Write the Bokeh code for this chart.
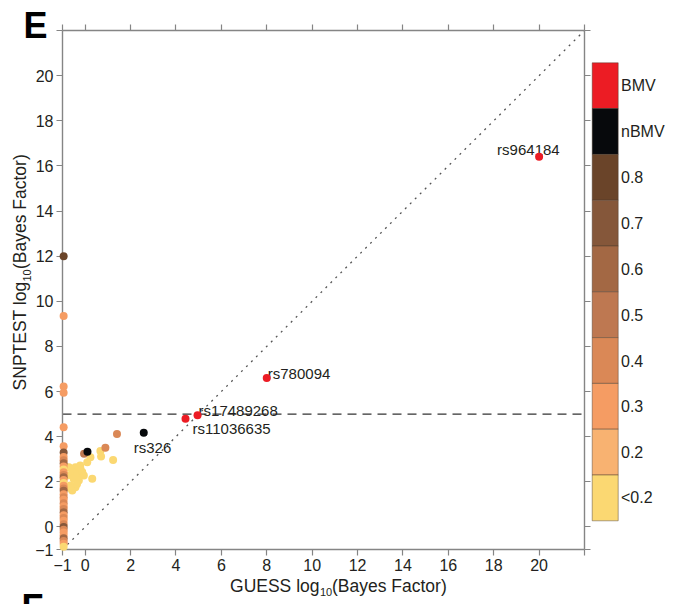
from math import pi

from bokeh.core.properties import value
from bokeh.embed import file_html
from bokeh.models import ColumnDataSource, FixedTicker, LinearAxis, Range1d
from bokeh.plotting import figure
from bokeh.resources import INLINE

FONT = "Liberation Sans"
INK = "#231F20"
AXIS_GREY = "#858585"

# ---- colour key: r² bins, top to bottom ----
bins = ["BMV", "nBMV", "0.8", "0.7", "0.6", "0.5", "0.4", "0.3", "0.2", "<0.2"]
bin_colors = ["#EC1C24", "#07090C", "#6A4429", "#85573A", "#A36844",
              "#BE7851", "#DA8856", "#F59C63", "#F8B271", "#FBD872"]
color_of = dict(zip(bins, bin_colors))

# ---- SNPs at the GUESS floor (log10 BF ~ -1) ----
floor_guess = -0.95
floor_snptest = [12.0, 9.35, 6.22, 5.95, 4.42, 3.58, 3.3, 3.1, 2.95, 2.82, 2.68, 2.55,
                 2.42, 2.3, 2.2, 2.08, 1.95, 1.82, 1.7, 1.6, 1.45, 1.32, 1.2, 1.05,
                 0.92, 0.8, 0.65, 0.52, 0.4, 0.27, 0.12, 0.0, -0.12, -0.25, -0.38,
                 -0.5, -0.62, -0.75, -0.88]
floor_bin = ["0.8", "0.3", "0.3", "0.3", "0.3", "0.3", "0.7", "0.3", "0.4", "0.6", "0.3", "<0.2",
             "0.3", "0.4", "0.6", "0.3", "<0.2", "0.3", "0.4", "0.6", "0.3", "0.4", "0.3", "0.4",
             "0.3", "0.4", "0.6", "0.3", "0.4", "0.3", "0.4", "0.7", "0.4", "0.3", "0.3",
             "0.6", "0.4", "0.3", "<0.2"]

# ---- other unlabeled SNPs ----
guess_bf = [-0.72, -0.79, -0.43, -0.21, -0.57, -0.35, -0.13, -0.50, -0.28, -0.06,
            -0.65, -0.43, -0.57, -0.22, -0.51, -0.66, -0.36, 0.09, 0.23, 0.31,
            0.67, 0.70, 1.23, 0.89, 1.40, -0.05, 0.10]
snptest_bf = [2.65, 2.28, 2.65, 2.58, 2.43, 2.35, 2.43, 2.13, 2.06, 2.28,
              1.84, 1.76, 1.61, 2.72, 2.16, 1.72, 1.90, 2.87, 3.09, 2.13,
              3.36, 3.12, 2.97, 3.51, 4.12, 3.24, 3.33]
snp_bin = ["<0.2"] * 23 + ["0.4", "0.4", "0.5", "nBMV"]

# ---- highlighted SNPs ----
named_ids = ["rs964184", "rs780094", "rs17489268", "rs11036635", "rs326"]
named_guess = [20.0, 8.0, 4.95, 4.42, 2.58]
named_snptest = [16.4, 6.6, 4.95, 4.79, 4.17]
named_bin = ["BMV", "BMV", "BMV", "BMV", "nBMV"]
# label baseline relative to each point, in screen pixels (right, down)
label_dx = [-42, 1, 1, 7, -10]
label_dy = [-2.5, 0, 0, 14, 19]

ticks = [-1, 0, 2, 4, 6, 8, 10, 12, 14, 16, 18, 20, 22]
threshold = 5

# ---- canvas geometry: the plotting box sits at pixels 62..584 x 30..549 ----
W, H = 675, 604
BOX_L, BOX_R, BOX_T, BOX_B = 62, 584, 30, 549
LO, HI = -1, 22
xu = (BOX_R - BOX_L) / (HI - LO)
yu = (BOX_B - BOX_T) / (HI - LO)
DROP = 0.3  # rendered baseline sits this many em below the anchor


def dx_(px):
    return LO + (px - BOX_L) / xu


def dy_(py):
    return HI - (py - BOX_T) / yu


p = figure(width=W, height=H,
           x_range=Range1d(dx_(0), dx_(W)), y_range=Range1d(dy_(H), dy_(0)),
           output_backend="svg", toolbar_location=None,
           x_axis_location=None, y_axis_location=None, min_border=0)
p.outline_line_color = None
p.xgrid.visible = False
p.ygrid.visible = False
p.background_fill_color = "white"
p.border_fill_color = "white"

overrides = {-1: "\u22121", 22: ""}
for side, loc in [("below", LO), ("left", LO), ("above", HI), ("right", HI)]:
    ax = LinearAxis(ticker=FixedTicker(ticks=ticks), fixed_location=loc, bounds=(LO, HI))
    ax.axis_line_color = AXIS_GREY
    ax.axis_line_width = 1.4
    ax.major_tick_line_color = AXIS_GREY
    ax.major_tick_line_width = 1.2
    ax.major_tick_out = 6
    ax.major_tick_in = 0
    ax.minor_tick_line_color = None
    if side in ("below", "left"):
        ax.major_label_overrides = overrides
        ax.major_label_text_font = FONT
        ax.major_label_text_font_size = "16px"
        ax.major_label_text_color = INK
        ax.major_label_standoff = 3
    else:
        ax.major_label_overrides = {t: "" for t in ticks}
        ax.major_label_text_font_size = "0px"
        ax.major_label_standoff = 0
    p.add_layout(ax, side)

# reference lines: identity (dotted) and significance threshold (dashed)
p.line([LO, HI], [LO, HI], line_color="#555555", line_width=1.3, line_dash="2 5")
p.line([LO, HI], [threshold, threshold], line_color="#333333", line_width=1.2, line_dash="9 6")

# points (the floor column is drawn over the y axis line)
floor_src = ColumnDataSource(dict(x=[floor_guess] * len(floor_snptest), y=floor_snptest,
                                  c=[color_of[b] for b in floor_bin]))
p.scatter("x", "y", source=floor_src, size=8, fill_color="c", line_color=None, level="overlay")

other_src = ColumnDataSource(dict(x=guess_bf, y=snptest_bf, c=[color_of[b] for b in snp_bin]))
p.scatter("x", "y", source=other_src, size=8, fill_color="c", line_color=None)

LABEL_PX = 15
named_src = ColumnDataSource(dict(
    x=named_guess, y=named_snptest, c=[color_of[b] for b in named_bin], name=named_ids,
    lx=[g + dx / xu for g, dx in zip(named_guess, label_dx)],
    ly=[s - (dy - DROP * LABEL_PX) / yu for s, dy in zip(named_snptest, label_dy)],
))
p.text("lx", "ly", text="name", source=named_src, text_font=value(FONT),
       text_font_size=f"{LABEL_PX}px", text_color=INK, text_align="left",
       text_baseline="alphabetic")
p.scatter("x", "y", source=named_src, size=8, fill_color="c", line_color=None)


# ---- titles: pieces laid out by their baseline in pixels, subscripted "10" ----
def add_text(px, py, text, size=17.5, angle=0, align="left", bold=False, baseline="alphabetic"):
    shift = DROP * size if baseline == "alphabetic" else 0
    if angle:
        px -= shift
    else:
        py -= shift
    p.text(x=[dx_(px)], y=[dy_(py)], text=[text], angle=angle, text_align=align,
           text_baseline=baseline, text_font=value(FONT), text_font_size=f"{size}px",
           text_color="black" if bold else INK,
           text_font_style="bold" if bold else "normal")


add_text(319, 591, "GUESS log", align="right")
add_text(319.5, 595, "10", size=11)
add_text(331.5, 591, "(Bayes Factor)")

add_text(25, 281, "SNPTEST log", angle=pi / 2, align="right")
add_text(29.5, 281, "10", size=11, angle=pi / 2)
add_text(25, 268.5, "(Bayes Factor)", angle=pi / 2)

# panel letters
add_text(23, 36, "E", size=36, bold=True)
add_text(21, 586, "F", size=36, bold=True, baseline="top")

# ---- colour key to the right of the plotting box ----
KEY_L, KEY_R, KEY_T, SEG = 591.7, 617.7, 62.3, 45.8
n = len(bins)
key_src = ColumnDataSource(dict(
    top=[dy_(KEY_T + i * SEG) for i in range(n)],
    bottom=[dy_(KEY_T + (i + 1) * SEG) for i in range(n)],
    mid=[dy_(KEY_T + (i + 0.5) * SEG) for i in range(n)],
    c=bin_colors, lab=bins,
))
p.quad(left=dx_(KEY_L), right=dx_(KEY_R), bottom="bottom", top="top", source=key_src,
       fill_color="c", line_color="#4a3a2c", line_alpha=0.45, line_width=1)
p.text(x=dx_(620.5), y="mid", text="lab", source=key_src, text_font=value(FONT),
       text_font_size="16px", text_color=INK, text_align="left", text_baseline="middle")

open("out.html", "w").write(file_html(p, INLINE))
